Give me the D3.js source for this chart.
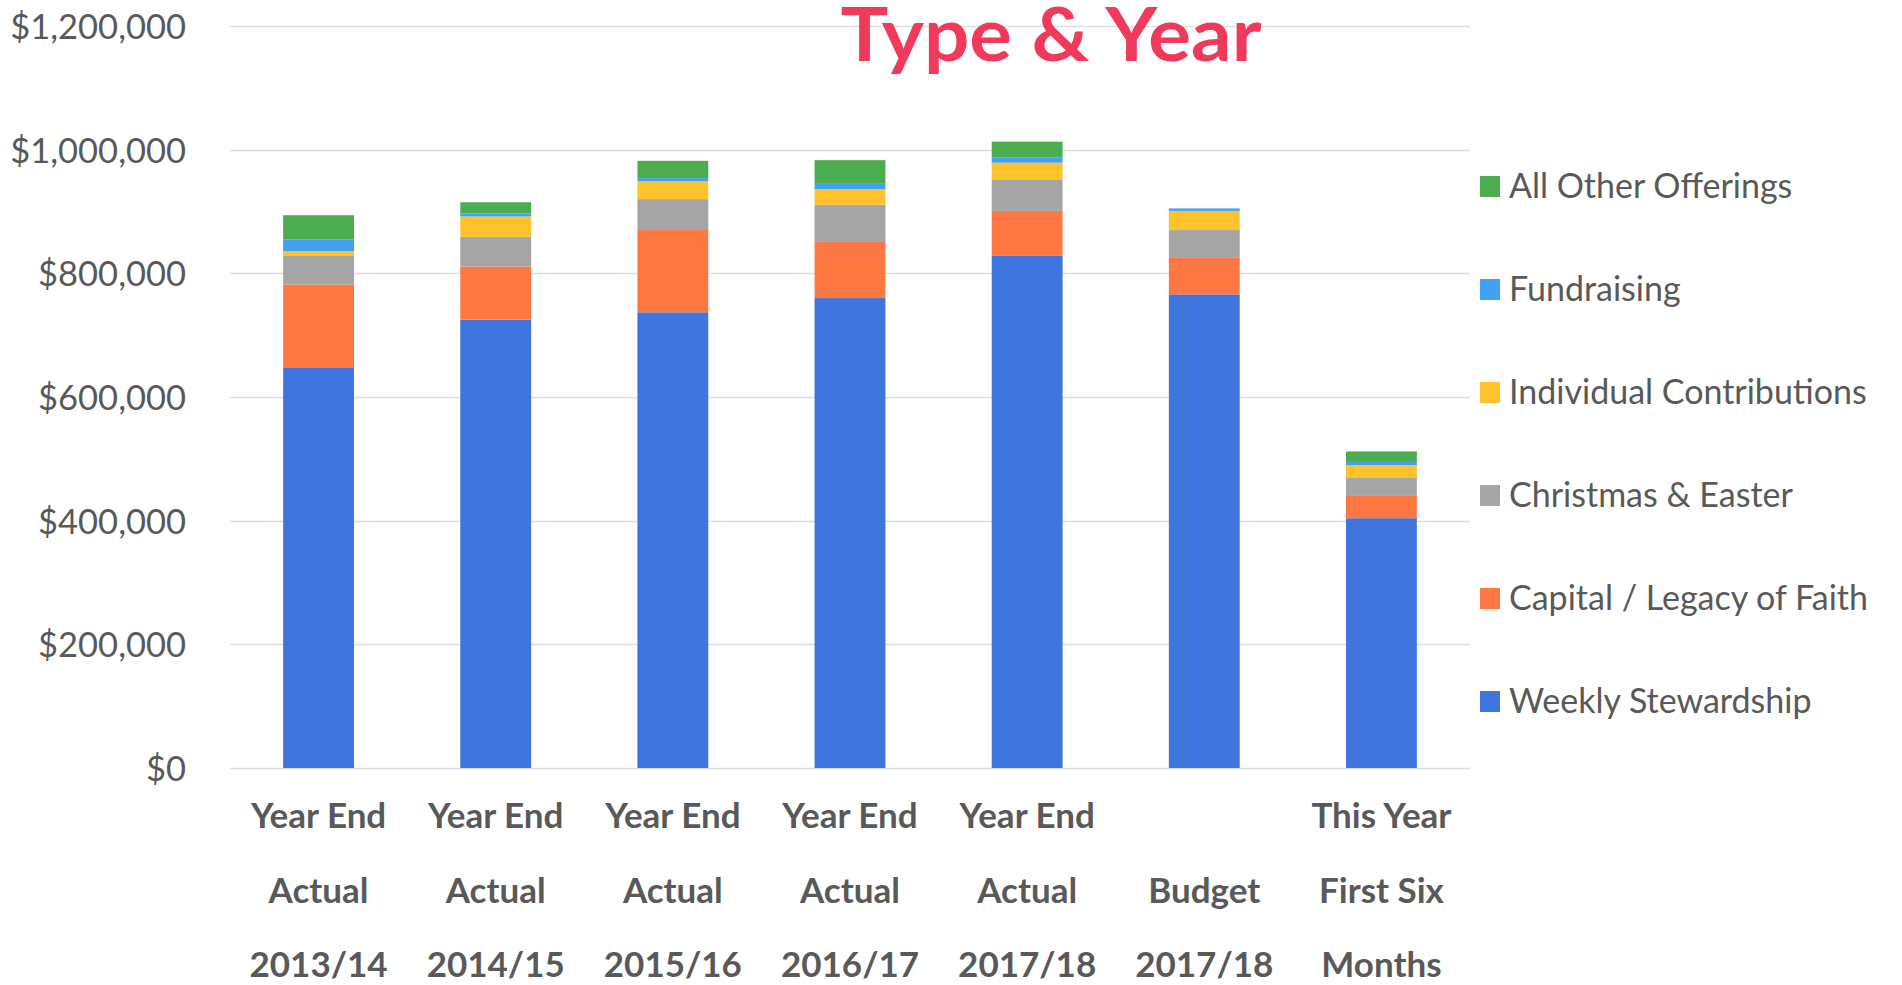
<!DOCTYPE html>
<html>
<head>
<meta charset="utf-8">
<script src="https://cdn.jsdelivr.net/npm/d3@7"></script>
<style>
  html, body { margin: 0; padding: 0; background: #fff; }
  svg { display: block; }
</style>
</head>
<body>
<svg id="chart"></svg>
<script>
// Data
const categories = ["ye1314", "ye1415", "ye1516", "ye1617", "ye1718", "bud1718", "thisyear"];
const labelLines = [
    ["Year End", "Actual", "2013/14"],
    ["Year End", "Actual", "2014/15"],
    ["Year End", "Actual", "2015/16"],
    ["Year End", "Actual", "2016/17"],
    ["Year End", "Actual", "2017/18"],
    ["", "Budget", "2017/18"],
    ["This Year", "First Six", "Months"]
];
const seriesNames = ["Weekly Stewardship", "Capital / Legacy of Faith", "Christmas & Easter",
                     "Individual Contributions", "Fundraising", "All Other Offerings"];
const weekly      = [648000, 725000, 737000, 760000, 829000, 766000, 404000];
const capital     = [134000,  86000, 133000,  92000,  72000,  59000,  36000];
const christmas   = [ 46000,  48000,  50000,  59000,  50000,  45000,  29000];
const individual  = [  8000,  33000,  29000,  25000,  28000,  31000,  21000];
const fundraising = [ 19000,   5000,   5000,  10000,   8000,   4000,   5000];
const otherOff    = [ 39000,  18000,  28000,  37000,  26000,      0,  17000];
const yTicks = [0, 200000, 400000, 600000, 800000, 1000000, 1200000];
const colors = ["#3f75dc", "#fd7843", "#a5a5a5", "#fec22d", "#42a1f0", "#4cad50"];

const W = 1902, H = 985;
const svg = d3.select("#chart").attr("width", W).attr("height", H);

// build rows for the stack
const seriesValues = [weekly, capital, christmas, individual, fundraising, otherOff];
const rows = categories.map((c, i) => {
    const r = { cat: c };
    seriesNames.forEach((s, j) => r[s] = seriesValues[j][i]);
    return r;
});
const stacked = d3.stack().keys(seriesNames)(rows);

const x = d3.scaleBand()
    .domain(categories)
    .range([230, 1470])
    .paddingInner(0.6)
    .paddingOuter(0.3);

const y = d3.scaleLinear()
    .domain([0, 1200000])
    .range([768, 26]);

const fmt = d => "$" + d3.format(",")(d);

// gridlines
svg.append("g")
    .selectAll("line")
    .data(yTicks)
    .enter()
    .append("line")
    .attr("x1", 230)
    .attr("x2", 1470)
    .attr("y1", d => Math.round(y(d)) + 0.5)
    .attr("y2", d => Math.round(y(d)) + 0.5)
    .attr("stroke", "#dedede")
    .attr("stroke-width", 1.5);

// y-axis labels
const yAxis = svg.append("g")
    .attr("transform", "translate(186,0)")
    .call(d3.axisLeft(y).tickValues(yTicks).tickFormat(fmt).tickSize(0).tickPadding(0));
yAxis.select(".domain").remove();
yAxis.selectAll("text")
    .attr("font-family", "Lato, sans-serif")
    .attr("font-size", 34.5)
    .attr("fill", "#595959")
    .attr("dy", "0.36em");

// bars
svg.append("g")
    .selectAll("g")
    .data(stacked)
    .enter()
    .append("g")
    .attr("fill", (d, i) => colors[i])
    .selectAll("rect")
    .data(d => d)
    .enter()
    .append("rect")
    .attr("x", d => x(d.data.cat))
    .attr("width", x.bandwidth())
    .attr("y", d => y(d[1]))
    .attr("height", d => y(d[0]) - y(d[1]));

// category labels (three lines each)
const lineY = [828, 903, 977];
const xl = svg.append("g");
categories.forEach((c, i) => {
    labelLines[i].forEach((t, k) => {
        xl.append("text")
            .attr("x", x(c) + x.bandwidth() / 2)
            .attr("y", lineY[k])
            .attr("text-anchor", "middle")
            .attr("font-family", "Lato, sans-serif")
            .attr("font-weight", "bold")
            .attr("font-size", 35)
            .attr("fill", "#595959")
            .text(t);
    });
});

// title
svg.append("text")
    .attr("x", 1051)
    .attr("y", 61)
    .attr("text-anchor", "middle")
    .attr("font-family", "Lato, sans-serif")
    .attr("font-weight", "bold")
    .attr("font-size", 74)
    .attr("fill", "#ef3a5b")
    .attr("textLength", 421)
    .attr("lengthAdjust", "spacingAndGlyphs")
    .text("Type & Year");

// legend, top item is the last series
const legendOrder = seriesNames.map((s, i) => i).reverse();
const legend = svg.append("g")
    .selectAll("g")
    .data(legendOrder)
    .enter()
    .append("g")
    .attr("transform", (d, k) => `translate(1480,${186 + k * 103})`);

legend.append("rect")
    .attr("x", 0)
    .attr("y", -10)
    .attr("width", 20)
    .attr("height", 21)
    .attr("fill", d => colors[d]);

legend.append("text")
    .attr("x", 29)
    .attr("y", 0)
    .attr("dy", "0.36em")
    .attr("font-family", "Lato, sans-serif")
    .attr("font-size", 34)
    .attr("fill", "#595959")
    .text(d => seriesNames[d]);
</script>
</body>
</html>
